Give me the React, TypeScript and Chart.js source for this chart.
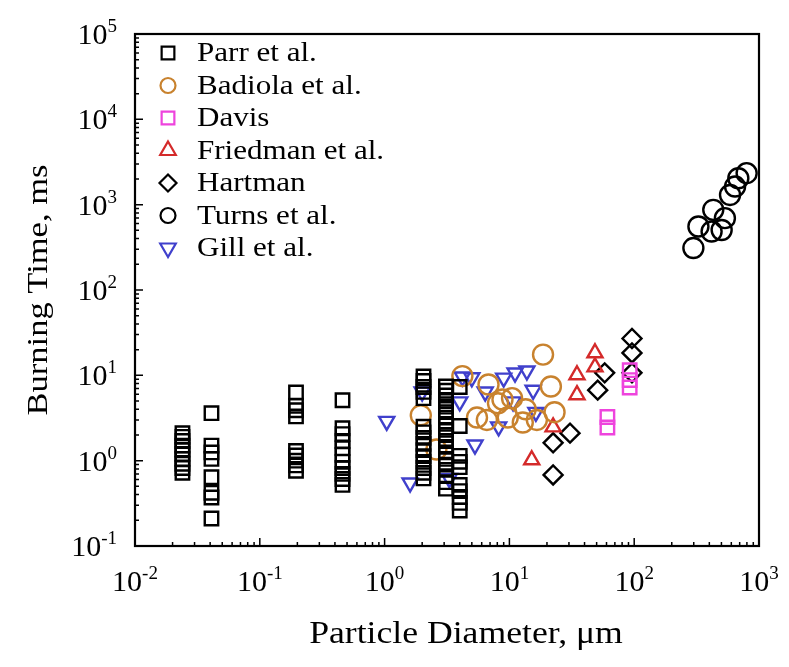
import React, { useEffect, useRef } from 'react';
import { Chart, registerables } from 'chart.js';

Chart.register(...registerables);

const FONT = '"Liberation Serif", "Times New Roman", serif';

// Axis tick labels (powers of ten)
const xTickExponents = [-2, -1, 0, 1, 2, 3];
const yTickExponents = [-1, 0, 1, 2, 3, 4, 5];
const xAxisTitle = 'Particle Diameter, \u03bcm';
const yAxisTitle = 'Burning Time, ms';

const seriesNames = ['Parr et al.', 'Badiola et al.', 'Davis', 'Friedman et al.', 'Hartman', 'Turns et al.', 'Gill et al.'];

// Parr et al.
const parrX = [
  0.024, 0.024, 0.024, 0.024, 0.024, 0.024, 0.024, 0.024, 0.024, 0.024,
  0.041, 0.041, 0.041, 0.041, 0.041, 0.041, 0.041, 0.041,
  0.195, 0.195, 0.195, 0.195, 0.195, 0.195, 0.195, 0.195, 0.195,
  0.46, 0.46, 0.46, 0.46, 0.46, 0.46, 0.46, 0.46, 0.46, 0.46, 0.46,
  2.05, 2.05, 2.05, 2.05, 2.05, 2.05, 2.05, 2.05, 2.05, 2.05, 2.05, 2.05, 2.05, 2.05, 2.05,
  3.1, 3.1, 3.1, 3.1, 3.1, 3.1, 3.1, 3.1, 3.1, 3.1, 3.1, 3.1, 3.1, 3.1, 3.1, 3.1, 3.1, 3.1, 3.1,
  4.0, 4.0, 4.0, 4.0, 4.0, 4.0, 4.0, 4.0, 4.0, 4.0,
];
const parrY = [
  2.1, 1.9, 1.7, 1.5, 1.35, 1.2, 1.05, 0.92, 0.82, 0.72,
  3.6, 1.5, 1.25, 1.05, 0.64, 0.42, 0.37, 0.21,
  6.3, 4.4, 3.9, 3.3, 1.3, 1.15, 1.0, 0.88, 0.76,
  5.1, 2.4, 2.05, 1.7, 1.4, 1.17, 0.97, 0.82, 0.7, 0.61, 0.52,
  9.7, 8.6, 7.3, 6.4, 5.4, 2.5, 2.15, 1.85, 1.57, 1.33, 1.13, 0.97, 0.82, 0.72, 0.62,
  7.4, 6.6, 5.8, 5.0, 4.3, 3.7, 3.2, 2.7, 2.3, 2.0, 1.7, 1.45, 1.25, 1.05, 0.9, 0.78, 0.66, 0.56, 0.47,
  7.3, 2.55, 1.14, 0.97, 0.84, 0.52, 0.44, 0.375, 0.32, 0.26,
];

// Badiola et al.
const badiolaX = [1.95, 2.6, 4.2, 5.5, 6.6, 6.8, 8.1, 8.8, 9.7, 10.5, 12.8, 13.5, 16.6, 18.6, 21.5, 23];
const badiolaY = [3.4, 1.35, 9.8, 3.2, 3.0, 7.8, 4.7, 5.2, 3.2, 5.4, 2.8, 4.0, 3.0, 17.5, 7.4, 3.7];

// Davis
const davisX = [61, 61, 92, 92, 92];
const davisY = [3.25, 2.45, 11.5, 8.8, 7.2];

// Friedman et al.
const friedmanX = [15.1, 22.4, 34.8, 34.8, 48.5, 48.5];
const friedmanY = [1.02, 2.48, 10.1, 5.9, 18.3, 12.5];

// Hartman
const hartmanX = [22.4, 22.4, 30.6, 51, 58, 96, 96, 96];
const hartmanY = [0.68, 1.62, 2.1, 6.7, 10.7, 27, 18.3, 10.7];

// Turns et al.
const turnsX = [298, 327, 417, 430, 502, 533, 586, 643, 683, 796];
const turnsY = [310, 555, 485, 870, 505, 695, 1300, 1630, 2040, 2340];

// Gill et al.
const gillX = [1.04, 1.6, 2.0, 3.3, 4.2, 4.0, 5.0, 5.3, 6.4, 8.2, 9.0, 10.7, 11.1, 13.8, 15.5, 16.3];
const gillY = [2.9, 0.55, 6.4, 0.62, 9.6, 4.9, 9.4, 1.53, 6.4, 2.5, 9.3, 4.9, 10.7, 11.3, 6.7, 3.7];

const toPoints = (xs: number[], ys: number[]) => xs.map((x, i) => ({ x, y: ys[i] }));

const TEXT_SX = 1.15;

function drawMarker(ctx: CanvasRenderingContext2D, style: string, x: number, y: number, r: number, rotDeg: number) {
  ctx.beginPath();
  if (style === 'rect') {
    const s = r * Math.SQRT1_2;
    ctx.rect(x - s, y - s, 2 * s, 2 * s);
  } else if (style === 'circle') {
    ctx.arc(x, y, r, 0, Math.PI * 2);
  } else if (style === 'triangle') {
    let a = (rotDeg * Math.PI) / 180;
    for (let k = 0; k < 3; k++) {
      const px = x + Math.sin(a) * r;
      const py = y - Math.cos(a) * r;
      if (k === 0) ctx.moveTo(px, py);
      else ctx.lineTo(px, py);
      a += (2 * Math.PI) / 3;
    }
    ctx.closePath();
  } else if (style === 'rectRot') {
    ctx.moveTo(x, y - r);
    ctx.lineTo(x + r, y);
    ctx.lineTo(x, y + r);
    ctx.lineTo(x - r, y);
    ctx.closePath();
  }
  ctx.stroke();
}

function drawStretched(ctx: CanvasRenderingContext2D, text: string, x: number, y: number, sx: number) {
  ctx.save();
  ctx.translate(x, y);
  ctx.scale(sx, 1);
  ctx.fillText(text, 0, 0);
  ctx.restore();
}

function drawPow(ctx: CanvasRenderingContext2D, e: number, x: number, baseline: number, align: 'center' | 'right') {
  const baseSize = 30;
  const expSize = 19;
  const base = '10';
  const exp = String(e);
  ctx.font = `${baseSize}px ${FONT}`;
  const bw = ctx.measureText(base).width;
  ctx.font = `${expSize}px ${FONT}`;
  const ew = ctx.measureText(exp).width;
  const total = bw + ew;
  const left = align === 'center' ? x - total / 2 : x - total;
  ctx.textAlign = 'left';
  ctx.textBaseline = 'alphabetic';
  ctx.font = `${baseSize}px ${FONT}`;
  ctx.fillText(base, left, baseline);
  ctx.font = `${expSize}px ${FONT}`;
  ctx.fillText(exp, left + bw, baseline - 12);
}

const legendRadius: Record<string, number> = { rect: 9, circle: 7.5, triangle: 9, rectRot: 8.5 };

const decorPlugin = {
  id: 'decor',
  afterDraw(chart: any) {
    const { ctx, chartArea: a, scales } = chart;
    const xs = scales.x;
    const ys = scales.y;
    ctx.save();
    ctx.strokeStyle = '#000';
    ctx.fillStyle = '#000';

    // Inward ticks
    ctx.lineWidth = 1.5;
    ctx.beginPath();
    xTickExponents.forEach((e, i) => {
      const major = Math.pow(10, e);
      const px = xs.getPixelForValue(major);
      ctx.moveTo(px, a.bottom);
      ctx.lineTo(px, a.bottom - 8);
      if (i < xTickExponents.length - 1) {
        for (let m = 2; m <= 9; m++) {
          const mx = xs.getPixelForValue(m * major);
          ctx.moveTo(mx, a.bottom);
          ctx.lineTo(mx, a.bottom - 4);
        }
      }
    });
    yTickExponents.forEach((e, i) => {
      const major = Math.pow(10, e);
      const py = ys.getPixelForValue(major);
      ctx.moveTo(a.left, py);
      ctx.lineTo(a.left + 8, py);
      if (i < yTickExponents.length - 1) {
        for (let m = 2; m <= 9; m++) {
          const my = ys.getPixelForValue(m * major);
          ctx.moveTo(a.left, my);
          ctx.lineTo(a.left + 4, my);
        }
      }
    });
    ctx.stroke();

    // Frame
    ctx.lineWidth = 2.2;
    ctx.strokeRect(a.left, a.top, a.right - a.left, a.bottom - a.top);

    // Tick labels
    xTickExponents.forEach((e) => {
      drawPow(ctx, e, xs.getPixelForValue(Math.pow(10, e)), a.bottom + 45, 'center');
    });
    yTickExponents.forEach((e) => {
      drawPow(ctx, e, a.left - 18, ys.getPixelForValue(Math.pow(10, e)) + 10, 'right');
    });

    // Axis titles
    ctx.font = `31px ${FONT}`;
    ctx.textAlign = 'center';
    ctx.textBaseline = 'middle';
    drawStretched(ctx, xAxisTitle, (a.left + a.right) / 2 + 19, a.bottom + 89, TEXT_SX);
    ctx.font = `30px ${FONT}`;
    ctx.save();
    ctx.translate(31, (a.top + a.bottom) / 2);
    ctx.rotate(-Math.PI / 2);
    ctx.scale(TEXT_SX, 1);
    ctx.fillText(yAxisTitle, 0, 0);
    ctx.restore();

    // Legend
    ctx.font = `27px ${FONT}`;
    ctx.textAlign = 'left';
    ctx.textBaseline = 'middle';
    chart.data.datasets.forEach((ds: any, i: number) => {
      const y = a.top + 19 + i * 32.5;
      ctx.strokeStyle = ds.borderColor;
      ctx.lineWidth = 2.2;
      drawMarker(ctx, ds.pointStyle, a.left + 33, y, legendRadius[ds.pointStyle], ds.pointRotation || 0);
      ctx.fillStyle = '#000';
      drawStretched(ctx, ds.label, a.left + 62, y + 1, TEXT_SX);
    });
    ctx.restore();
  },
};

export default function App() {
  const ref = useRef<HTMLCanvasElement>(null);
  useEffect(() => {
    const canvas = ref.current;
    if (!canvas) return;
    const mk = (label: string, xs: number[], ys: number[], color: string, pointStyle: string, radius: number, rotation = 0) => ({
      label,
      data: toPoints(xs, ys),
      borderColor: color,
      backgroundColor: 'rgba(0,0,0,0)',
      pointStyle,
      pointRadius: radius,
      pointRotation: rotation,
      borderWidth: 2.4,
      showLine: false,
      clip: false as any,
    });
    const chart = new Chart(canvas, {
      type: 'scatter',
      data: {
        datasets: [
          mk(seriesNames[0], parrX, parrY, '#000000', 'rect', 9.5),
          mk(seriesNames[1], badiolaX, badiolaY, '#c8822e', 'circle', 10),
          mk(seriesNames[2], davisX, davisY, '#ee44dd', 'rect', 9.5),
          mk(seriesNames[3], friedmanX, friedmanY, '#d42a2a', 'triangle', 8.7),
          mk(seriesNames[4], hartmanX, hartmanY, '#000000', 'rectRot', 9.5),
          mk(seriesNames[5], turnsX, turnsY, '#000000', 'circle', 10),
          mk(seriesNames[6], gillX, gillY, '#4040cc', 'triangle', 8.7, 180),
        ] as any,
      },
      options: {
        animation: false,
        responsive: false,
        devicePixelRatio: 1,
        layout: { padding: { left: 127, top: 26, right: 22, bottom: 112 } },
        scales: {
          x: { type: 'logarithmic', min: 0.01, max: 1000, display: false },
          y: { type: 'logarithmic', min: 0.1, max: 100000, display: false },
        },
        plugins: {
          legend: { display: false },
          tooltip: { enabled: false },
        },
      },
      plugins: [decorPlugin],
    });
    return () => chart.destroy();
  }, []);
  return (
    <div style={{ width: 773, height: 650 }}>
      <canvas ref={ref} width={773} height={650} style={{ display: 'block' }} />
    </div>
  );
}
